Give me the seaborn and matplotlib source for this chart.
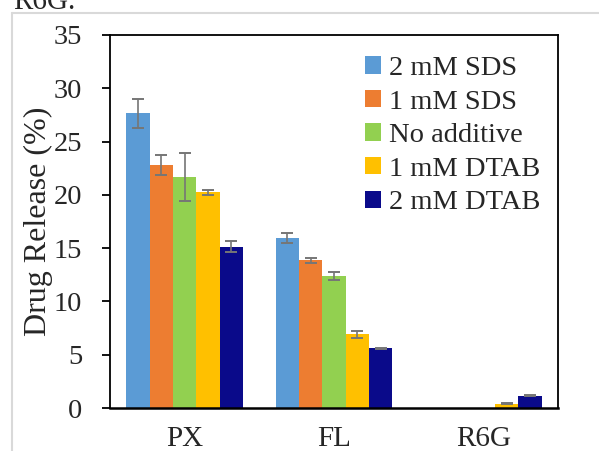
import matplotlib
matplotlib.use("Agg")
import matplotlib.pyplot as plt
from matplotlib.lines import Line2D
import numpy as np
import pandas as pd
import seaborn as sns

# Release data (mean and standard deviation, %)
compounds = ["PX", "FL", "R6G"]
additives = ["2 mM SDS", "1 mM SDS", "No additive", "1 mM DTAB", "2 mM DTAB"]
release_sds2 = [27.65, 15.95, 0.0]
release_sds1 = [22.8, 13.85, 0.0]
release_none = [21.7, 12.38, 0.0]
release_dtab1 = [20.23, 6.91, 0.41]
release_dtab2 = [15.13, 5.6, 1.15]
err_sds2 = [1.33, 0.43, 0.0]
err_sds1 = [0.95, 0.25, 0.0]
err_none = [2.25, 0.35, 0.0]
err_dtab1 = [0.25, 0.3, 0.05]
err_dtab2 = [0.5, 0.05, 0.07]
yticks = [0, 5, 10, 15, 20, 25, 30, 35]

colors = ["#5B9BD5", "#ED7D31", "#92D050", "#FFC000", "#0A0A8A"]

means = [release_sds2, release_sds1, release_none, release_dtab1, release_dtab2]
errs = [err_sds2, err_sds1, err_none, err_dtab1, err_dtab2]

rows = []
for add, m_list, e_list in zip(additives, means, errs):
    for comp, m, e in zip(compounds, m_list, e_list):
        rows.append({"Compound": comp, "Additive": add, "Release": m, "SD": e})
df = pd.DataFrame(rows)

sns.set_theme(style="white")
plt.rcParams["font.family"] = ["Liberation Serif", "DejaVu Serif"]

fig = plt.figure(figsize=(5.99, 4.51), dpi=100)
ax = fig.add_axes([110 / 599, 1 - 408 / 451, 448 / 599, 373 / 451])

sns.barplot(data=df, x="Compound", y="Release", hue="Additive",
            order=compounds, hue_order=additives, palette=colors,
            width=0.78, errorbar=None, ax=ax, legend=False,
            edgecolor="none", linewidth=0, saturation=1)

# error bars at the centre of each bar
for patch, (_, row) in zip(ax.patches, df.iterrows()):
    if row["SD"] <= 0:
        continue
    cx = patch.get_x() + patch.get_width() / 2
    ax.errorbar(cx, patch.get_height(), yerr=row["SD"], fmt="none",
                ecolor="#767676", elinewidth=1.2, capsize=4, capthick=1.4,
                zorder=5)

ax.set_ylim(0, 35)
ax.set_yticks(yticks)
ax.set_yticklabels([str(t) for t in yticks])
ax.set_xlim(-0.5, 2.5)
ax.set_xlabel("")
ax.set_ylabel("Drug Release (%)", fontsize=23)
ax.yaxis.set_label_coords(-0.128, 0.5)
ax.tick_params(axis="y", direction="out", length=6, width=1.3, color="black",
               pad=14, labelsize=20.5, left=True)
ax.tick_params(axis="x", length=0, pad=13, labelsize=21)
for side in ["left", "right", "top", "bottom"]:
    ax.spines[side].set_visible(True)
    ax.spines[side].set_color("black")
    ax.spines[side].set_linewidth(1.3)
ax.spines["bottom"].set_linewidth(1.8)

handles = [plt.Rectangle((0, 0), 1, 1, facecolor=c, edgecolor="none") for c in colors]
ax.legend(handles, additives, loc="upper left", bbox_to_anchor=(365 / 599, 1 - 56 / 451),
          bbox_transform=fig.transFigure, frameon=False, fontsize=20.5,
          handlelength=0.55, handleheight=0.55, handletextpad=0.3,
          labelspacing=0.3, borderpad=0, borderaxespad=0)

# surrounding light frame and caption fragment above it
fig.add_artist(Line2D([12 / 599, 12 / 599], [0, 1 - 13 / 451], transform=fig.transFigure,
                      color="#D9D9D9", linewidth=1.5))
fig.add_artist(Line2D([12 / 599, 1], [1 - 13 / 451, 1 - 13 / 451], transform=fig.transFigure,
                      color="#D9D9D9", linewidth=1.5))
fig.text(13 / 599, 1 - 9 / 451, "R6G.", fontsize=21, va="baseline", ha="left")

fig.savefig("out.png", dpi=100)
